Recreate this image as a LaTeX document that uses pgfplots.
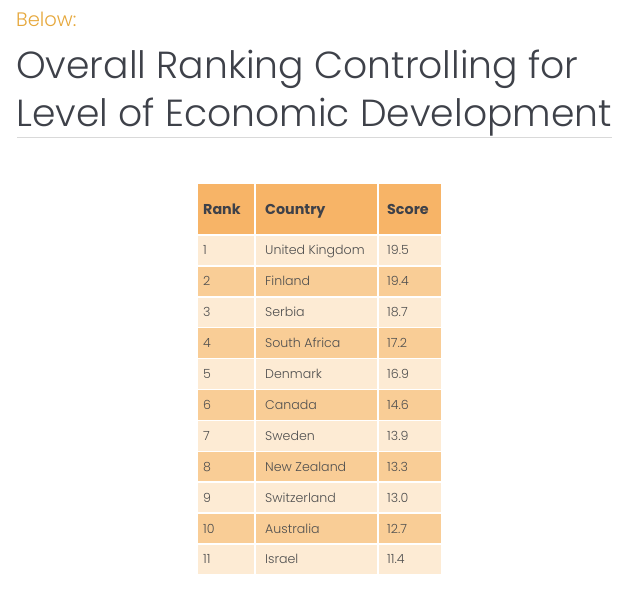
\documentclass[border=0pt]{standalone}
\usepackage{fontspec}
\setmainfont{Poppins}[UprightFont=* Light, BoldFont=* Bold]
\usepackage{pgfplots}
\usepackage{pgfplotstable}
\pgfplotsset{compat=1.18}

\definecolor{hdr}{HTML}{F7B467}
\definecolor{rowlight}{HTML}{FDEBD4}
\definecolor{rowdark}{HTML}{F9CD96}
\definecolor{titletxt}{HTML}{3E4149}
\definecolor{bodytxt}{HTML}{4F4F4F}
\definecolor{gold}{HTML}{E6A83C}

% rank, country, score, y centre of row
\pgfplotstableread[col sep=comma]{
rank,country,score,y
1,United Kingdom,19.5,250.45
2,Finland,19.4,281.35
3,Serbia,18.7,312.25
4,South Africa,17.2,343.15
5,Denmark,16.9,374.05
6,Canada,14.6,404.95
7,Sweden,13.9,435.85
8,New Zealand,13.3,466.75
9,Switzerland,13.0,497.65
10,Australia,12.7,528.55
11,Israel,11.4,559.45
}\ranking

\begin{document}
\begin{tikzpicture}
\begin{axis}[
    scale only axis,
    width=630pt, height=600pt,
    xmin=0, xmax=630, ymin=0, ymax=600,
    y dir=reverse,
    hide axis,
    clip=false,
]
% keep the whole 630x600 area in the picture
\path (rel axis cs:0,0) rectangle (rel axis cs:1,1);
% header and rows
\addplot[fill=hdr, draw=white, line width=1.5pt] coordinates {(197,183) (442,183) (442,235) (197,235)} --cycle;
\addplot[fill=rowlight, draw=white, line width=1.5pt] coordinates {(197,235) (442,235) (442,265.9) (197,265.9)} --cycle;
\addplot[fill=rowdark, draw=white, line width=1.5pt] coordinates {(197,265.9) (442,265.9) (442,296.8) (197,296.8)} --cycle;
\addplot[fill=rowlight, draw=white, line width=1.5pt] coordinates {(197,296.8) (442,296.8) (442,327.7) (197,327.7)} --cycle;
\addplot[fill=rowdark, draw=white, line width=1.5pt] coordinates {(197,327.7) (442,327.7) (442,358.6) (197,358.6)} --cycle;
\addplot[fill=rowlight, draw=white, line width=1.5pt] coordinates {(197,358.6) (442,358.6) (442,389.5) (197,389.5)} --cycle;
\addplot[fill=rowdark, draw=white, line width=1.5pt] coordinates {(197,389.5) (442,389.5) (442,420.4) (197,420.4)} --cycle;
\addplot[fill=rowlight, draw=white, line width=1.5pt] coordinates {(197,420.4) (442,420.4) (442,451.3) (197,451.3)} --cycle;
\addplot[fill=rowdark, draw=white, line width=1.5pt] coordinates {(197,451.3) (442,451.3) (442,482.2) (197,482.2)} --cycle;
\addplot[fill=rowlight, draw=white, line width=1.5pt] coordinates {(197,482.2) (442,482.2) (442,513.1) (197,513.1)} --cycle;
\addplot[fill=rowdark, draw=white, line width=1.5pt] coordinates {(197,513.1) (442,513.1) (442,544.0) (197,544.0)} --cycle;
\addplot[fill=rowlight, draw=white, line width=1.5pt] coordinates {(197,544.0) (442,544.0) (442,574.9) (197,574.9)} --cycle;
% column separators
\addplot[white, line width=2pt] coordinates {(254.5,183) (254.5,574.9)};
\addplot[white, line width=2pt] coordinates {(377.5,183) (377.5,574.9)};

% cell text, baselines aligned
\pgfplotsset{every node near coord/.style={anchor=base west, yshift=-4.5pt, inner sep=0pt, font=\fontsize{12.6}{14}\selectfont, text=bodytxt}}
\addplot[draw=none, mark=none, nodes near coords, point meta=explicit symbolic]
    table[x expr=203, y=y, meta=rank] {\ranking};
\addplot[draw=none, mark=none, nodes near coords, point meta=explicit symbolic]
    table[x expr=265, y=y, meta=country] {\ranking};
\addplot[draw=none, mark=none, nodes near coords, point meta=explicit symbolic]
    table[x expr=387, y=y, meta=score] {\ranking};

% header text
\node[anchor=base west, inner sep=0pt, font=\bfseries\fontsize{14.3}{16}\selectfont, text=titletxt] at (axis cs:203,214.5) {Rank};
\node[anchor=base west, inner sep=0pt, font=\bfseries\fontsize{14.3}{16}\selectfont, text=titletxt] at (axis cs:265,214.5) {Country};
\node[anchor=base west, inner sep=0pt, font=\bfseries\fontsize{14.3}{16}\selectfont, text=titletxt] at (axis cs:387,214.5) {Score};

% titles
\node[anchor=base west, inner sep=0pt, font=\fontsize{19.5}{22}\selectfont, text=gold] at (axis cs:16,26) {Below:};
\node[anchor=base west, inner sep=0pt, font=\fontsize{37.7}{44}\selectfont, text=titletxt] at (axis cs:16,78) {Overall Ranking Controlling for};
\node[anchor=base west, inner sep=0pt, font=\fontsize{37.7}{44}\selectfont, text=titletxt] at (axis cs:16,126) {Level of Economic Development};
\addplot[color=black!15, line width=0.8pt] coordinates {(17,137) (612,137)};
\end{axis}
\end{tikzpicture}
\end{document}
